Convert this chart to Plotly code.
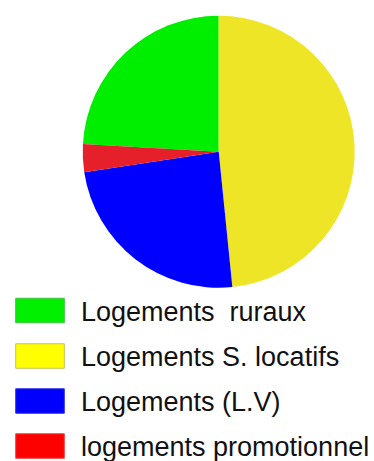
import plotly.graph_objects as go

# Housing categories and their shares (%)
labels = ["Logements  ruraux", "Logements S. locatifs", "Logements (L.V)", "logements promotionnel"]
values = [24.1, 48.4, 24.2, 3.3]
slice_colors = ["#00EE00", "#EFE527", "#0000FF", "#E6202A"]
key_colors = ["#00F000", "#FFFF00", "#0000FF", "#FF0000"]
key_edges = ["#40C040", "#C8C060", "#3030E0", "#F04040"]

W, H = 374, 461

# first slice (rural) ends at 12 o'clock, so the pie is rotated back by its angle
rotation = -values[0] / sum(values) * 360

# pie centre and radius in pixels
cx, cy, r = 218.7, 151.7, 136

fig = go.Figure(go.Pie(
    labels=labels,
    values=values,
    sort=False,
    direction="clockwise",
    rotation=rotation,
    marker=dict(colors=slice_colors, line=dict(width=0)),
    textinfo="none",
    textposition="inside",
    hoverinfo="label+percent",
    showlegend=False,
    domain=dict(x=[(cx - r) / W, (cx + r) / W], y=[1 - (cy + r) / H, 1 - (cy - r) / H]),
))

# hand-drawn key: large colour swatches with labels
row_centres = [310.5, 356, 401, 446]
sw_x0, sw_x1, sw_h = 15.7, 64.3, 24.5
shapes, annotations = [], []
for lab, col, edge, yc in zip(labels, key_colors, key_edges, row_centres):
    shapes.append(dict(
        type="rect", xref="paper", yref="paper",
        x0=sw_x0 / W, x1=sw_x1 / W,
        y0=1 - (yc + sw_h / 2) / H, y1=1 - (yc - sw_h / 2) / H,
        fillcolor=col, line=dict(color=edge, width=1),
    ))
    annotations.append(dict(
        text=lab, xref="paper", yref="paper",
        x=79 / W, y=1 - (yc + 1) / H, xanchor="left", yanchor="middle",
        showarrow=False,
        font=dict(family="Liberation Sans, Arial, sans-serif", size=27, color="#111111"),
    ))

fig.update_layout(
    width=W, height=H,
    margin=dict(l=0, r=0, t=0, b=0),
    paper_bgcolor="white", plot_bgcolor="white",
    shapes=shapes, annotations=annotations,
)

fig.write_html("out.html")
